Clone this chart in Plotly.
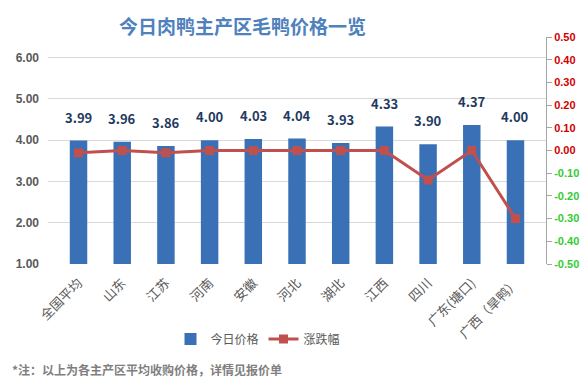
import plotly.graph_objects as go

categories = ["全国平均", "山东", "江苏", "河南", "安徽", "河北", "湖北", "江西", "四川", "广东(塘口)", "广西（旱鸭）"]
prices = [3.99, 3.96, 3.86, 4.00, 4.03, 4.04, 3.93, 4.33, 3.90, 4.37, 4.00]
changes = [-0.01, 0.00, -0.01, 0.00, 0.00, 0.00, 0.00, 0.00, -0.13, 0.00, -0.30]
left_ticks = [1, 2, 3, 4, 5, 6]
right_ticks = [0.5, 0.4, 0.3, 0.2, 0.1, 0.0, -0.1, -0.2, -0.3, -0.4, -0.5]

FONT = "Noto Sans CJK SC, Microsoft YaHei, sans-serif"

fig = go.Figure()
fig.add_trace(go.Bar(
    x=categories, y=prices, name="今日价格",
    marker=dict(color="#3a70b6", line=dict(width=0)),
    yaxis="y", width=0.4,
))
fig.add_trace(go.Scatter(
    x=categories, y=changes, name="涨跌幅", yaxis="y2",
    mode="lines+markers",
    line=dict(color="#c0504d", width=3),
    marker=dict(symbol="square", size=9, color="#c0504d"),
))

for c, p in zip(categories, prices):
    fig.add_annotation(x=c, y=p, text=f"<b>{p:.2f}</b>", showarrow=False,
                       yanchor="bottom", yshift=12, xref="x", yref="y",
                       font=dict(size=13, color="#1f3a60", family=FONT))

right_text = []
for v in right_ticks:
    col = "#d00000" if v >= 0 else "#33cc33"
    right_text.append(f"<span style='color:{col}'><b>{v:.2f}</b></span>")

fig.update_layout(
    width=588, height=389,
    margin=dict(l=48, r=42, t=37, b=125, autoexpand=False),
    paper_bgcolor="white", plot_bgcolor="white",
    font=dict(family=FONT, color="#595959", size=12),
    bargap=0.6,
    xaxis=dict(tickangle=-45, showgrid=False, showline=False, ticks="",
               automargin=False, ticklabelstandoff=8,
               tickfont=dict(size=13, color="#595959", family=FONT)),
    yaxis=dict(range=[1, 6.5], tickvals=left_ticks,
               ticktext=[f"<b>{v:.2f}</b>" for v in left_ticks],
               showgrid=True, gridcolor="#d9d9d9", gridwidth=1,
               zeroline=False, showline=False, ticks="", automargin=False,
               ticklabelstandoff=8,
               tickfont=dict(size=12, color="#595959", family="Liberation Sans")),
    yaxis2=dict(range=[-0.5, 0.5], overlaying="y", side="right",
                tickvals=right_ticks, ticktext=right_text,
                showgrid=False, zeroline=False, showline=True,
                linecolor="#a6a6a6", linewidth=1, ticks="outside",
                ticklen=5, tickcolor="#a6a6a6", automargin=False,
                tickfont=dict(size=11, family="Liberation Sans")),
    legend=dict(orientation="h", x=(258-48)/498, xanchor="center", y=(264-339)/227,
                yanchor="middle", font=dict(size=12, color="#595959", family=FONT),
                bgcolor="rgba(0,0,0,0)", itemwidth=30),
    showlegend=True,
)

fig.add_annotation(text="<b>今日肉鸭主产区毛鸭价格一览</b>", xref="paper", yref="paper",
                   x=(242-48)/498, y=(264-25)/227, xanchor="center", yanchor="middle",
                   showarrow=False, font=dict(size=19, color="#4f81bd", family=FONT))

fig.add_annotation(text="<b>*注：以上为各主产区平均收购价格，详情见报价单</b>",
                   xref="paper", yref="paper", x=(10-48)/498, y=(264-369)/227,
                   xanchor="left", yanchor="middle", showarrow=False,
                   font=dict(size=12, color="#7f7f7f", family=FONT))

fig.write_html("out.html", config={"displayModeBar": False},
               post_script="document.body.style.margin='0';document.body.style.padding='0';")
